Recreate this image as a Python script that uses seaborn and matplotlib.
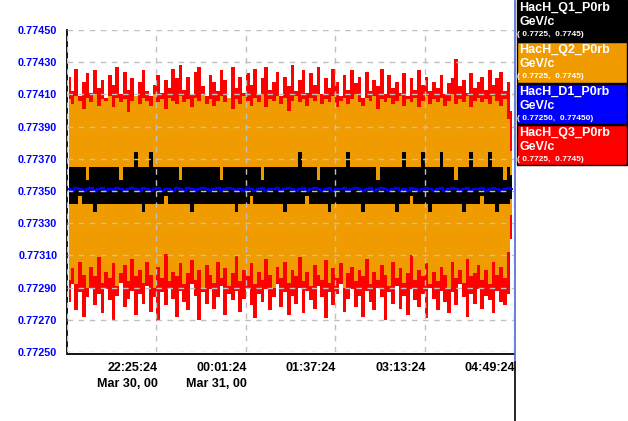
import numpy as np
import pandas as pd
import matplotlib
matplotlib.use("Agg")
import matplotlib.pyplot as plt
import matplotlib.transforms as mtransforms
import seaborn as sns
from matplotlib.patches import Rectangle
from matplotlib.lines import Line2D

# ---------------- data ----------------
tick_minutes = [0, 96, 192, 288, 384, 480]
tick_labels = ["", "22:25:24\nMar 30, 00", "00:01:24\nMar 31, 00",
               "01:37:24", "03:13:24", "04:49:24"]
y_ticks = [0.77250, 0.77270, 0.77290, 0.77310, 0.77330, 0.77350,
           0.77370, 0.77390, 0.77410, 0.77430, 0.77450]

series_names = ["HacH_Q1_P0rb", "HacH_Q2_P0rb", "HacH_D1_P0rb", "HacH_Q3_P0rb"]
series_units = ["GeV/c", "GeV/c", "GeV/c", "GeV/c"]
series_ranges = ["( 0.7725,  0.7745)", "( 0.7725,  0.7745)",
                 "( 0.77250,  0.77450)", "( 0.7725,  0.7745)"]

red_hi = [
    0.77421, 0.77412, 0.77426, 0.77409, 0.77418, 0.77423, 0.77411, 0.77425, 0.77414, 0.77419,
    0.77408, 0.77422, 0.77416, 0.77427, 0.77410, 0.77424, 0.77413, 0.77420, 0.77407, 0.77418,
    0.77425, 0.77412, 0.77409, 0.77416, 0.77422, 0.77411, 0.77419, 0.77414, 0.77426, 0.77420,
    0.77428, 0.77413, 0.77421, 0.77410, 0.77424, 0.77427, 0.77415, 0.77409, 0.77422, 0.77418,
    0.77412, 0.77425, 0.77419, 0.77408, 0.77427, 0.77414, 0.77421, 0.77411, 0.77423, 0.77416,
    0.77426, 0.77410, 0.77420, 0.77427, 0.77413, 0.77418, 0.77424, 0.77409, 0.77421, 0.77415,
    0.77428, 0.77412, 0.77419, 0.77425, 0.77411, 0.77423, 0.77416, 0.77427, 0.77410, 0.77420,
    0.77414, 0.77426, 0.77418, 0.77409, 0.77422, 0.77413, 0.77425, 0.77417, 0.77421, 0.77408,
    0.77424, 0.77412, 0.77419, 0.77415, 0.77426, 0.77410, 0.77422, 0.77414, 0.77418, 0.77411,
    0.77423, 0.77409, 0.77420, 0.77413, 0.77425, 0.77416, 0.77421, 0.77412, 0.77418, 0.77414,
    0.77422, 0.77410, 0.77417, 0.77420, 0.77432, 0.77415, 0.77419, 0.77411, 0.77423, 0.77414,
    0.77418, 0.77421, 0.77413, 0.77425, 0.77416, 0.77420, 0.77424, 0.77412, 0.77418, 0.77400]

red_lo = [
    0.77281, 0.77292, 0.77276, 0.77287, 0.77272, 0.77284, 0.77290, 0.77279, 0.77286, 0.77274,
    0.77289, 0.77282, 0.77270, 0.77285, 0.77293, 0.77278, 0.77283, 0.77288, 0.77273, 0.77286,
    0.77280, 0.77291, 0.77275, 0.77284, 0.77269, 0.77287, 0.77279, 0.77290, 0.77283, 0.77272,
    0.77288, 0.77281, 0.77276, 0.77292, 0.77285, 0.77270, 0.77287, 0.77280, 0.77289, 0.77277,
    0.77284, 0.77291, 0.77273, 0.77286, 0.77282, 0.77288, 0.77275, 0.77283, 0.77290, 0.77279,
    0.77271, 0.77286, 0.77281, 0.77289, 0.77276, 0.77284, 0.77292, 0.77278, 0.77287, 0.77273,
    0.77285, 0.77280, 0.77290, 0.77274, 0.77288, 0.77282, 0.77277, 0.77291, 0.77284, 0.77271,
    0.77287, 0.77279, 0.77286, 0.77292, 0.77275, 0.77283, 0.77289, 0.77278, 0.77285, 0.77272,
    0.77288, 0.77281, 0.77276, 0.77290, 0.77284, 0.77270, 0.77287, 0.77280, 0.77291, 0.77277,
    0.77285, 0.77273, 0.77289, 0.77282, 0.77278, 0.77286, 0.77271, 0.77290, 0.77283, 0.77276,
    0.77288, 0.77281, 0.77274, 0.77287, 0.77279, 0.77292, 0.77284, 0.77272, 0.77286, 0.77280,
    0.77289, 0.77277, 0.77285, 0.77282, 0.77274, 0.77288, 0.77281, 0.77279, 0.77286, 0.77320]

orange_hi = [
    0.77407, 0.77404, 0.77409, 0.77406, 0.77401, 0.77408, 0.77405, 0.77410, 0.77403, 0.77407,
    0.77406, 0.77409, 0.77402, 0.77408, 0.77405, 0.77407, 0.77399, 0.77406, 0.77409, 0.77404,
    0.77408, 0.77406, 0.77403, 0.77410, 0.77405, 0.77407, 0.77401, 0.77408, 0.77406, 0.77404,
    0.77409, 0.77405, 0.77407, 0.77402, 0.77408, 0.77406, 0.77410, 0.77404, 0.77407, 0.77403,
    0.77406, 0.77409, 0.77405, 0.77408, 0.77401, 0.77407, 0.77404, 0.77409, 0.77406, 0.77403,
    0.77408, 0.77405, 0.77410, 0.77402, 0.77407, 0.77406, 0.77409, 0.77404, 0.77408, 0.77400,
    0.77406, 0.77409, 0.77405, 0.77407, 0.77403, 0.77408, 0.77406, 0.77410, 0.77404, 0.77407,
    0.77405, 0.77409, 0.77402, 0.77406, 0.77408, 0.77404, 0.77407, 0.77410, 0.77405, 0.77403,
    0.77408, 0.77406, 0.77409, 0.77401, 0.77407, 0.77405, 0.77408, 0.77404, 0.77406, 0.77409,
    0.77403, 0.77407, 0.77405, 0.77408, 0.77402, 0.77406, 0.77409, 0.77404, 0.77407, 0.77405,
    0.77408, 0.77403, 0.77406, 0.77410, 0.77404, 0.77407, 0.77405, 0.77409, 0.77402, 0.77406,
    0.77408, 0.77405, 0.77407, 0.77404, 0.77409, 0.77406, 0.77403, 0.77407, 0.77395, 0.77375]

orange_lo = [
    0.77295, 0.77302, 0.77292, 0.77306, 0.77298, 0.77290, 0.77303, 0.77297, 0.77309, 0.77293,
    0.77300, 0.77296, 0.77305, 0.77291, 0.77299, 0.77304, 0.77294, 0.77308, 0.77297, 0.77301,
    0.77293, 0.77306, 0.77298, 0.77290, 0.77303, 0.77296, 0.77311, 0.77294, 0.77300, 0.77297,
    0.77305, 0.77292, 0.77299, 0.77307, 0.77295, 0.77301, 0.77289, 0.77304, 0.77298, 0.77293,
    0.77306, 0.77296, 0.77302, 0.77291, 0.77299, 0.77310, 0.77294, 0.77301, 0.77297, 0.77305,
    0.77292, 0.77300, 0.77295, 0.77308, 0.77298, 0.77290, 0.77303, 0.77296, 0.77306, 0.77293,
    0.77301, 0.77297, 0.77309, 0.77294, 0.77300, 0.77291, 0.77304, 0.77298, 0.77295, 0.77307,
    0.77293, 0.77302, 0.77296, 0.77305, 0.77290, 0.77299, 0.77303, 0.77294, 0.77301, 0.77297,
    0.77308, 0.77292, 0.77300, 0.77295, 0.77304, 0.77298, 0.77291, 0.77306, 0.77296, 0.77302,
    0.77293, 0.77299, 0.77310, 0.77295, 0.77301, 0.77297, 0.77305, 0.77292, 0.77300, 0.77294,
    0.77303, 0.77298, 0.77290, 0.77306, 0.77296, 0.77301, 0.77293, 0.77308, 0.77297, 0.77299,
    0.77304, 0.77295, 0.77301, 0.77292, 0.77306, 0.77298, 0.77303, 0.77296, 0.77312, 0.77335]

black_hi = [
    0.77365, 0.77365, 0.77365, 0.77365, 0.77365, 0.77357, 0.77365, 0.77365, 0.77365, 0.77365,
    0.77365, 0.77365, 0.77365, 0.77365, 0.77357, 0.77365, 0.77365, 0.77365, 0.77374, 0.77365,
    0.77365, 0.77365, 0.77374, 0.77365, 0.77365, 0.77365, 0.77365, 0.77365, 0.77365, 0.77365,
    0.77357, 0.77365, 0.77365, 0.77365, 0.77365, 0.77365, 0.77365, 0.77365, 0.77365, 0.77365,
    0.77365, 0.77357, 0.77365, 0.77365, 0.77365, 0.77365, 0.77365, 0.77365, 0.77365, 0.77365,
    0.77365, 0.77365, 0.77357, 0.77365, 0.77365, 0.77365, 0.77365, 0.77365, 0.77365, 0.77365,
    0.77365, 0.77365, 0.77374, 0.77365, 0.77365, 0.77365, 0.77365, 0.77357, 0.77365, 0.77365,
    0.77365, 0.77365, 0.77365, 0.77365, 0.77365, 0.77374, 0.77365, 0.77365, 0.77365, 0.77365,
    0.77365, 0.77365, 0.77365, 0.77357, 0.77365, 0.77365, 0.77365, 0.77365, 0.77365, 0.77365,
    0.77374, 0.77365, 0.77365, 0.77365, 0.77365, 0.77374, 0.77365, 0.77365, 0.77365, 0.77365,
    0.77374, 0.77365, 0.77365, 0.77365, 0.77357, 0.77365, 0.77365, 0.77365, 0.77374, 0.77365,
    0.77365, 0.77365, 0.77365, 0.77374, 0.77365, 0.77365, 0.77365, 0.77357, 0.77365, 0.77360]

black_lo = [
    0.77342, 0.77342, 0.77342, 0.77347, 0.77342, 0.77342, 0.77342, 0.77337, 0.77342, 0.77342,
    0.77342, 0.77342, 0.77342, 0.77342, 0.77342, 0.77342, 0.77342, 0.77342, 0.77342, 0.77342,
    0.77337, 0.77342, 0.77342, 0.77342, 0.77342, 0.77342, 0.77347, 0.77342, 0.77342, 0.77342,
    0.77342, 0.77342, 0.77342, 0.77337, 0.77342, 0.77342, 0.77342, 0.77342, 0.77342, 0.77342,
    0.77342, 0.77342, 0.77342, 0.77342, 0.77342, 0.77337, 0.77342, 0.77342, 0.77342, 0.77347,
    0.77342, 0.77342, 0.77342, 0.77342, 0.77342, 0.77342, 0.77342, 0.77342, 0.77337, 0.77342,
    0.77342, 0.77342, 0.77342, 0.77342, 0.77347, 0.77342, 0.77342, 0.77342, 0.77342, 0.77342,
    0.77337, 0.77342, 0.77342, 0.77342, 0.77342, 0.77342, 0.77342, 0.77342, 0.77342, 0.77337,
    0.77342, 0.77342, 0.77342, 0.77342, 0.77342, 0.77342, 0.77342, 0.77342, 0.77337, 0.77342,
    0.77342, 0.77342, 0.77347, 0.77342, 0.77342, 0.77342, 0.77342, 0.77337, 0.77342, 0.77342,
    0.77342, 0.77342, 0.77342, 0.77342, 0.77342, 0.77342, 0.77337, 0.77342, 0.77342, 0.77342,
    0.77342, 0.77347, 0.77342, 0.77342, 0.77342, 0.77337, 0.77342, 0.77342, 0.77342, 0.77345]

blue_val = [
    0.77351, 0.77350, 0.77352, 0.77351, 0.77350, 0.77351, 0.77352, 0.77350, 0.77351, 0.77352,
    0.77350, 0.77351, 0.77350, 0.77352, 0.77351, 0.77350, 0.77351, 0.77352, 0.77351, 0.77350,
    0.77352, 0.77351, 0.77350, 0.77351, 0.77352, 0.77350, 0.77351, 0.77351, 0.77350, 0.77352,
    0.77351, 0.77350, 0.77352, 0.77351, 0.77350, 0.77351, 0.77352, 0.77351, 0.77350, 0.77351,
    0.77352, 0.77350, 0.77351, 0.77352, 0.77351, 0.77350, 0.77351, 0.77350, 0.77352, 0.77351,
    0.77350, 0.77351, 0.77352, 0.77350, 0.77351, 0.77351, 0.77352, 0.77350, 0.77351, 0.77352,
    0.77351, 0.77350, 0.77351, 0.77352, 0.77350, 0.77351, 0.77352, 0.77351, 0.77350, 0.77351,
    0.77352, 0.77350, 0.77351, 0.77351, 0.77352, 0.77350, 0.77351, 0.77352, 0.77351, 0.77350,
    0.77351, 0.77352, 0.77350, 0.77351, 0.77352, 0.77351, 0.77350, 0.77351, 0.77352, 0.77350,
    0.77351, 0.77350, 0.77352, 0.77351, 0.77350, 0.77351, 0.77352, 0.77351, 0.77350, 0.77351,
    0.77352, 0.77350, 0.77351, 0.77352, 0.77351, 0.77350, 0.77351, 0.77352, 0.77350, 0.77351,
    0.77351, 0.77352, 0.77350, 0.77351, 0.77352, 0.77351, 0.77350, 0.77351, 0.77352, 0.77351]

# ---------------- styling constants ----------------
C_RED = "#ff0000"
C_ORANGE = "#f09b00"
C_BLACK = "#000000"
C_BLUE = "#0000ff"
W, H = 628, 421

sns.set_style("white")
plt.rcParams['font.family'] = ['Liberation Sans', 'DejaVu Sans']

n = len(red_hi)
minutes = np.linspace(0, 480, n + 1)
mid = (minutes[:-1] + minutes[1:]) / 2
df = pd.DataFrame({"t": mid, "red_hi": red_hi, "red_lo": red_lo,
                   "orange_hi": orange_hi, "orange_lo": orange_lo,
                   "black_hi": black_hi, "black_lo": black_lo,
                   "blue": blue_val})

fig = plt.figure(figsize=(W / 100, H / 100), dpi=100)
fig.patch.set_facecolor("white")
ax = fig.add_axes([67 / W, 69 / H, 447 / W, 322 / H])

ax.fill_between(df["t"], df["red_lo"], df["red_hi"], step="mid",
                color=C_RED, linewidth=0, zorder=1)
ax.fill_between(df["t"], df["orange_lo"], df["orange_hi"], step="mid",
                color=C_ORANGE, linewidth=0, zorder=1.1)
ax.fill_between(df["t"], df["black_lo"], df["black_hi"], step="mid",
                color=C_BLACK, linewidth=0, zorder=1.2)
sns.lineplot(data=df, x="t", y="blue", ax=ax, color=C_BLUE, linewidth=1.7,
             drawstyle="steps-mid", zorder=1.3, legend=False)

ax.set_xlim(0, 480)
ax.set_ylim(0.77250, 0.77450)
ax.set_xlabel("")
ax.set_ylabel("")

ax.set_axisbelow(False)
ax.grid(True, color="#c0c0c0", linestyle=(0, (4, 4)), linewidth=1)

ax.tick_params(axis="both", direction="out", length=5, width=1,
               color="black", pad=2)
ax.tick_params(axis="x", length=4)

ax.set_yticks(y_ticks)
ax.set_yticklabels([f"{v:.5f}" for v in y_ticks], color=C_BLUE,
                   fontweight="bold", fontsize=7.8)
ax.set_xticks(tick_minutes)
ax.set_xticklabels([""] * len(tick_minutes))

# x tick labels: right-aligned to their tick, drawn as text at the tick positions
xlab_trans = mtransforms.offset_copy(
    mtransforms.blended_transform_factory(ax.transData, ax.transAxes),
    fig=fig, x=1, y=-10, units="dots")
for tx, lab in zip(tick_minutes, tick_labels):
    if lab:
        ax.text(tx, 0, lab, transform=xlab_trans, ha="right", va="top",
                multialignment="right", fontsize=9, fontweight="bold",
                color="black", linespacing=1.4, clip_on=False)

for s in ["top", "right"]:
    ax.spines[s].set_visible(False)
ax.spines["left"].set_color("black")
ax.spines["left"].set_linewidth(1.3)
ax.spines["bottom"].set_color("black")
ax.spines["bottom"].set_linewidth(1.3)
ax.spines["bottom"].set_position(("outward", 1.5))

# vertical cursor / divider line
fig.add_artist(Line2D([514.5 / W, 514.5 / W], [1 - 0 / H, 1 - 362 / H],
                      transform=fig.transFigure, color="#4a6ad0", linewidth=1.2))
fig.add_artist(Line2D([514.5 / W, 514.5 / W], [1 - 362 / H, 0],
                      transform=fig.transFigure, color="black", linewidth=1.2))

# legend panel
box_colors = [C_BLACK, C_ORANGE, C_BLUE, C_RED]
box_tops = [0, 42, 84, 125]
box_bottoms = [41, 83, 124, 165]
for name, unit, rng, col, top, bot in zip(series_names, series_units, series_ranges,
                                           box_colors, box_tops, box_bottoms):
    fig.add_artist(Rectangle((517 / W, 1 - bot / H), 110 / W, (bot - top) / H,
                             transform=fig.transFigure, facecolor=col,
                             edgecolor="black", linewidth=1))
    fig.text(519 / W, 1 - (top + 2) / H, name, color="white", fontsize=9,
             fontweight="bold", va="top", ha="left")
    fig.text(519 / W, 1 - (top + 16) / H, unit, color="white", fontsize=9,
             fontweight="bold", va="top", ha="left")
    fig.text(517 / W, 1 - (top + 31) / H, rng, color="white", fontsize=6,
             fontweight="bold", va="top", ha="left")

fig.savefig("out.png", dpi=100, facecolor="white")
